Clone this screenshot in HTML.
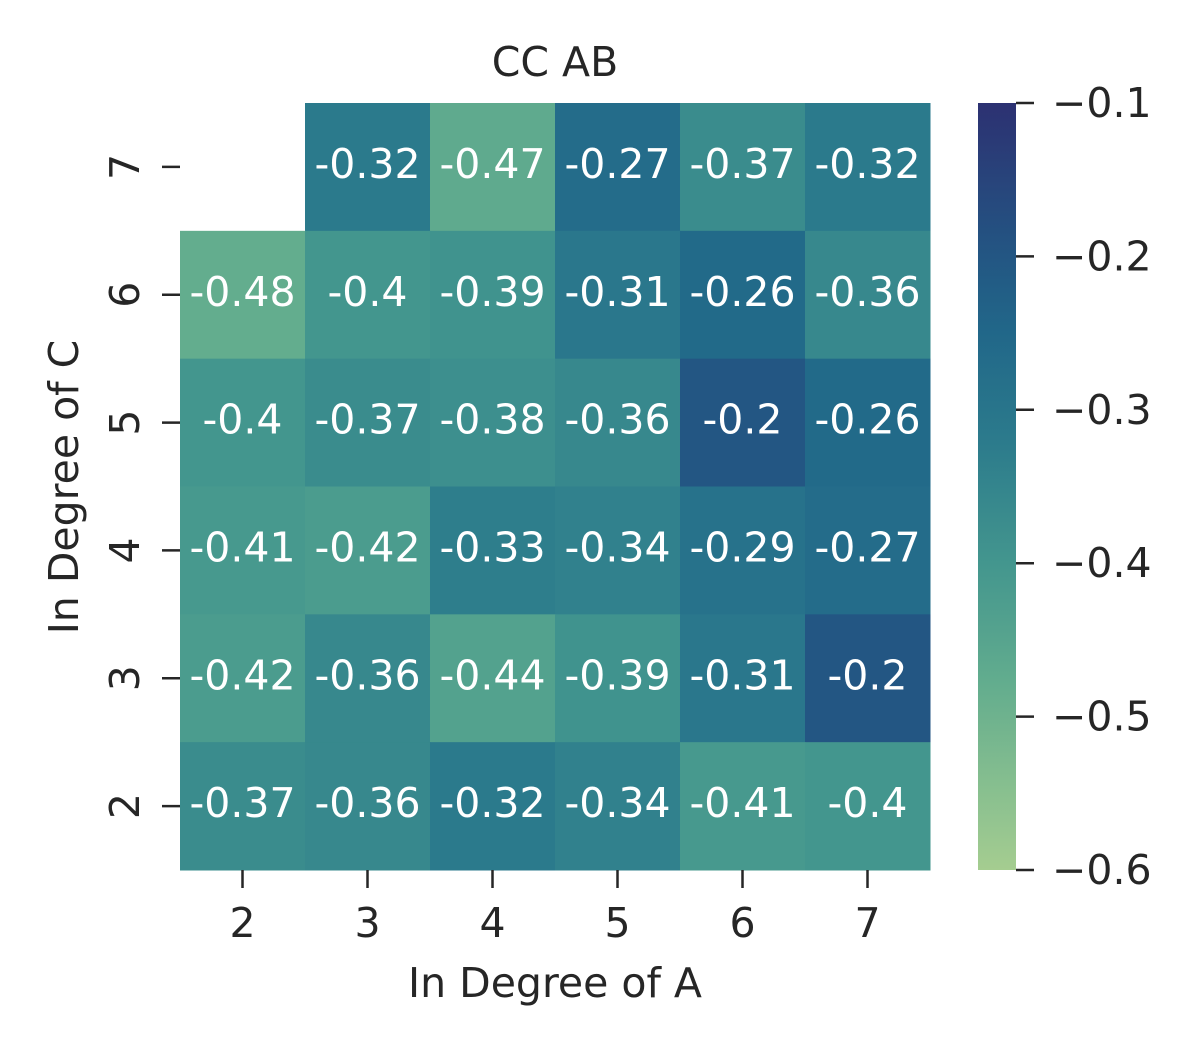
<!DOCTYPE html>
<html><head><meta charset="utf-8"><style>
body{margin:0;background:#fff;}
svg text{font-family:"DejaVu Sans","Liberation Sans",sans-serif;fill:#262626;}
</style></head><body>
<svg id="chart" width="1200" height="1050" viewBox="0 0 1200 1050">
<defs><linearGradient id="cbgrad" x1="0" y1="1" x2="0" y2="0"></linearGradient></defs>
<text x="555" y="76" font-size="41" text-anchor="middle">CC AB</text>
<g id="cells"></g>
<g id="axes"></g>
<text x="555" y="997" font-size="41" text-anchor="middle">In Degree of A</text>
<text transform="translate(78,487) rotate(-90)" font-size="41" text-anchor="middle">In Degree of C</text>
<rect x="978" y="103" width="38" height="767" fill="url(#cbgrad)"/>
<g id="cbticks"></g>
</svg>
<script>
const xCats=[2,3,4,5,6,7];
const yCats=[7,6,5,4,3,2];
const values=[
[null,-0.32,-0.47,-0.27,-0.37,-0.32],
[-0.48,-0.4,-0.39,-0.31,-0.26,-0.36],
[-0.4,-0.37,-0.38,-0.36,-0.2,-0.26],
[-0.41,-0.42,-0.33,-0.34,-0.29,-0.27],
[-0.42,-0.36,-0.44,-0.39,-0.31,-0.2],
[-0.37,-0.36,-0.32,-0.34,-0.41,-0.4]];
const cbTicks=[-0.1,-0.2,-0.3,-0.4,-0.5,-0.6];
const vmin=-0.6,vmax=-0.1;
const L=180,R=930,T=103,B=870;
const cw=(R-L)/xCats.length,ch=(B-T)/yCats.length;
const stops=[[0,[165,205,144]],[0.24,[99,173,142]],[0.4,[67,150,142]],[0.56,[43,122,140]],[0.7,[33,103,137]],[0.8,[35,86,131]],[1,[44,49,114]]];
function color(v){let t=Math.max(0,Math.min(1,(v-vmin)/(vmax-vmin)));
for(let i=1;i<stops.length;i++){if(t<=stops[i][0]){const a=stops[i-1],b=stops[i],f=(t-a[0])/(b[0]-a[0]);
return 'rgb('+a[1].map((c,k)=>Math.round(c+(b[1][k]-c)*f)).join(',')+')';}}return 'rgb(44,49,114)';}
const NS='http://www.w3.org/2000/svg';
function mk(tag,attrs,parent){const e=document.createElementNS(NS,tag);for(const k in attrs)e.setAttribute(k,attrs[k]);parent.appendChild(e);return e;}
const xPos=i=>L+cw*(i+0.5), yPos=j=>T+ch*(j+0.5);
const yScaleCb=v=>B-(v-vmin)/(vmax-vmin)*(B-T);
const cells=document.getElementById('cells'),axes=document.getElementById('axes');
values.forEach((row,j)=>row.forEach((v,i)=>{if(v===null)return;
const r=mk('rect',{x:L+cw*i,y:T+ch*j,width:cw+0.5,height:ch+0.5,fill:color(v)},cells);


const t=mk('text',{x:xPos(i),y:yPos(j)+11,'font-size':'41','text-anchor':'middle',style:'fill:#fff'},cells);


t.textContent=String(v);}));
xCats.forEach((c,i)=>{const l=mk('line',{x1:xPos(i),x2:xPos(i),y1:B,y2:B+18,stroke:'#262626','stroke-width':2.5},axes);


const t=mk('text',{x:xPos(i),y:B+67,'font-size':'41','text-anchor':'middle'},axes);


t.textContent=c;});
yCats.forEach((c,j)=>{const l=mk('line',{x1:L-18,x2:L,y1:yPos(j),y2:yPos(j),stroke:'#262626','stroke-width':2.5},axes);


const t=mk('text',{transform:'translate('+(L-41)+','+yPos(j)+') rotate(-90)','font-size':'41','text-anchor':'middle'},axes);


t.textContent=c;});
const g=document.getElementById('cbgrad');
for(let k=0;k<=20;k++){mk('stop',{offset:(k/20),'stop-color':color(vmin+(vmax-vmin)*k/20)},g);}
const cbt=document.getElementById('cbticks');
cbTicks.forEach(v=>{const y=yScaleCb(v);
const l=mk('line',{x1:1016,x2:1034,y1:y,y2:y,stroke:'#262626','stroke-width':2.5},cbt);


const t=mk('text',{x:1052,y:y+14,'font-size':'41'},cbt);


t.textContent='\u2212'+Math.abs(v).toFixed(1);});
</script>
</body></html>
